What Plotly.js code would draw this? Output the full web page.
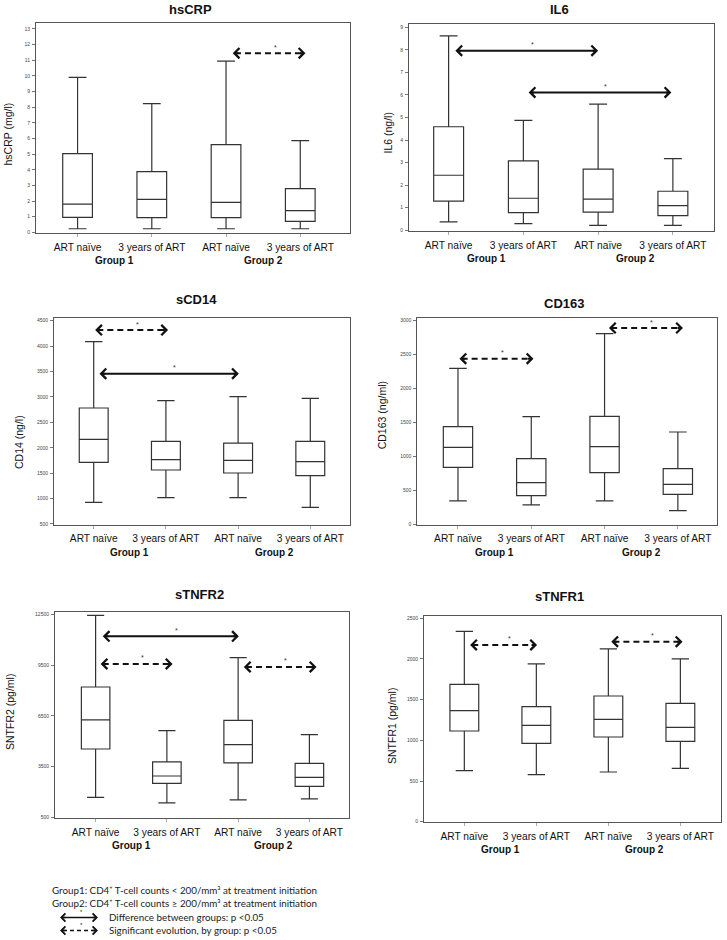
<!DOCTYPE html>
<html>
<head>
<meta charset="utf-8">
<script src="https://cdn.plot.ly/plotly-3.0.1.min.js"></script>
<style>html,body{margin:0;padding:0;background:#fff;}#chart{width:727px;height:940px;}</style>
</head>
<body>
<div id="chart"></div>
<script>
// ---------- data ----------
const xPos = [0, 1, 2, 3];
const categoryLabels = ['ART naïve', '3 years of ART', 'ART naïve', '3 years of ART'];
const groupLabels = ['Group 1', 'Group 2'];
const groupCenters = [0.5, 2.5];

const hscrpLow  = [0.23, 0.23, 0.23, 0.23];
const hscrpQ1   = [0.96, 0.94, 0.94, 0.70];
const hscrpMed  = [1.81, 2.11, 1.92, 1.39];
const hscrpQ3   = [5.03, 3.88, 5.61, 2.79];
const hscrpHigh = [9.91, 8.23, 10.94, 5.86];

const il6Low  = [0.37, 0.30, 0.22, 0.22];
const il6Q1   = [1.29, 0.78, 0.81, 0.65];
const il6Med  = [2.44, 1.42, 1.38, 1.09];
const il6Q3   = [4.59, 3.08, 2.71, 1.73];
const il6High = [8.62, 4.87, 5.59, 3.18];

const scd14Low  = [926, 1018, 1018, 828];
const scd14Q1   = [1713, 1562, 1503, 1451];
const scd14Med  = [2166, 1766, 1752, 1726];
const scd14Q3   = [2782, 2126, 2093, 2126];
const scd14High = [4087, 2926, 3005, 2972];

const cd163Low  = [344, 285, 344, 201];
const cd163Q1   = [840, 422, 761, 442];
const cd163Med  = [1134, 614, 1144, 589];
const cd163Q3   = [1439, 967, 1591, 820];
const cd163High = [2298, 1586, 2808, 1360];

const stnfr2Low  = [1682, 1347, 1525, 1584];
const stnfr2Q1   = [4539, 2510, 3712, 2333];
const stnfr2Med  = [6254, 2943, 4796, 2864];
const stnfr2Q3   = [8204, 3771, 6234, 3692];
const stnfr2High = [12441, 5623, 9938, 5387];

const stnfr1Low  = [627, 578, 611, 656];
const stnfr1Q1   = [1115, 963, 1041, 988];
const stnfr1Med  = [1365, 1184, 1258, 1160];
const stnfr1Q3   = [1689, 1414, 1545, 1455];
const stnfr1High = [2340, 1939, 2123, 2000];

// significance arrows: [from category, to category, value, kind]
const hscrpSig  = [[2.09, 3.07, 11.45, 'evolution']];
const il6Sig    = [[0.09, 2.0, 7.96, 'between'], [1.07, 2.98, 6.11, 'between']];
const scd14Sig  = [[0.02, 1.03, 4316, 'evolution'], [0.08, 2.01, 3457, 'between']];
const cd163Sig  = [[0.02, 1.03, 2440, 'evolution'], [2.06, 3.07, 2892, 'evolution']];
const stnfr2Sig = [[0.10, 2.01, 11200, 'between'], [0.07, 1.08, 9564, 'evolution'], [2.08, 3.10, 9387, 'evolution']];
const stnfr1Sig = [[0.08, 1.01, 2172, 'evolution'], [2.04, 3.03, 2213, 'evolution']];

const legendLines = [
  'Group1: CD4⁺ T-cell counts < 200/mm³ at treatment initiation',
  'Group2: CD4⁺ T-cell counts ≥ 200/mm³ at treatment initiation'
];
const legendArrowTexts = ['Difference between groups: p <0.05', 'Significant evolution, by group: p <0.05'];

// ---------- layout helpers ----------
const W = 727, H = 940;
const FONT = 'Liberation Sans, Arial, sans-serif';
const px = v => v / W;
const py = v => 1 - v / H;

const panels = [
  {title: 'hsCRP', ytitle: 'hsCRP (mg/l)', low: hscrpLow, q1: hscrpQ1, med: hscrpMed, q3: hscrpQ3, high: hscrpHigh, sig: hscrpSig,
   box: [36, 350, 23.3, 233.3], xr: [-0.56, 3.67], yr: [-0.06, 13.36], tick0: 0, dtick: 1, tpos: [190.5, 9], ypos: [7.5, 134]},
  {title: 'IL6', ytitle: 'IL6 (ng/l)', low: il6Low, q1: il6Q1, med: il6Med, q3: il6Q3, high: il6High, sig: il6Sig,
   box: [409, 714, 24.3, 231.3], xr: [-0.53, 3.55], yr: [-0.044, 9.13], tick0: 0, dtick: 1, tpos: [559, 9.3], ypos: [387.5, 133]},
  {title: 'sCD14', ytitle: 'CD14 (ng/l)', low: scd14Low, q1: scd14Q1, med: scd14Med, q3: scd14Q3, high: scd14High, sig: scd14Sig,
   box: [54, 350, 317.7, 525], xr: [-0.55, 3.55], yr: [480, 4559], tick0: 500, dtick: 500, tpos: [196.3, 299.3], ypos: [18.3, 441.7]},
  {title: 'CD163', ytitle: 'CD163 (ng/ml)', low: cd163Low, q1: cd163Q1, med: cd163Med, q3: cd163Q3, high: cd163High, sig: cd163Sig,
   box: [417.3, 716.7, 318.3, 525], xr: [-0.555, 3.53], yr: [-10, 3035], tick0: 0, dtick: 500, tpos: [564, 303.3], ypos: [382.3, 415]},
  {title: 'sTNFR2', ytitle: 'SNTFR2 (pg/ml)', low: stnfr2Low, q1: stnfr2Q1, med: stnfr2Med, q3: stnfr2Q3, high: stnfr2High, sig: stnfr2Sig,
   box: [55, 349.3, 611.7, 818.3], xr: [-0.57, 3.56], yr: [441, 12654], tick0: 500, dtick: 3000, tpos: [199, 594], ypos: [10, 712]},
  {title: 'sTNFR1', ytitle: 'SNTFR1 (pg/ml)', low: stnfr1Low, q1: stnfr1Q1, med: stnfr1Med, q3: stnfr1Q3, high: stnfr1High, sig: stnfr1Sig,
   box: [424, 720.7, 616, 822.3], xr: [-0.56, 3.56], yr: [-7, 2528], tick0: 0, dtick: 500, tpos: [559, 596], ypos: [391.3, 725.7]}
];

const traces = [];
const annotations = [];
const shapes = [];
const layout = {
  width: W, height: H,
  margin: {l: 0, r: 0, t: 0, b: 0},
  paper_bgcolor: '#ffffff', plot_bgcolor: '#ffffff',
  showlegend: false,
  font: {family: FONT, color: '#111'}
};

function head(xv, yv, xref, yref, dir, width) {
  return {x: xv, y: yv, xref: xref, yref: yref, text: '', showarrow: true,
          ax: dir * 7, ay: 0, arrowhead: 4, arrowsize: 1, arrowwidth: width, arrowcolor: '#111'};
}

panels.forEach((p, i) => {
  const n = i + 1;
  const xa = 'x' + (n === 1 ? '' : n), ya = 'y' + (n === 1 ? '' : n);
  const xk = 'xaxis' + (n === 1 ? '' : n), yk = 'yaxis' + (n === 1 ? '' : n);
  const [l, r, t, b] = p.box;
  layout[xk] = {
    domain: [px(l), px(r)], range: p.xr, anchor: ya,
    tickmode: 'array', tickvals: xPos, ticktext: categoryLabels,
    tickfont: {family: FONT, size: 10.2, color: '#111'},
    ticks: 'outside', ticklen: 3, tickcolor: '#aaa', ticklabelstandoff: 1,
    showline: true, mirror: true, linecolor: '#555', linewidth: 1,
    showgrid: false, zeroline: false, fixedrange: true
  };
  layout[yk] = {
    domain: [py(b), py(t)], range: p.yr, anchor: xa,
    tick0: p.tick0, dtick: p.dtick, tickformat: 'd',
    tickfont: {family: FONT, size: 5, color: '#444'},
    ticks: 'outside', ticklen: 3, tickcolor: '#777', ticklabelstandoff: 1,
    showline: true, mirror: true, linecolor: '#555', linewidth: 1,
    showgrid: false, zeroline: false, fixedrange: true
  };
  traces.push({
    type: 'box', x: xPos, q1: p.q1, median: p.med, q3: p.q3,
    lowerfence: p.low, upperfence: p.high, boxpoints: false,
    width: 0.4, whiskerwidth: 0.6,
    line: {color: '#333', width: 1.2}, fillcolor: '#ffffff',
    xaxis: xa, yaxis: ya, hoverinfo: 'skip', name: p.title
  });
  // significance arrows
  p.sig.forEach(s => {
    const [from, to, val, kind] = s;
    traces.push({
      type: 'scatter', mode: 'lines', x: [from + 0.03, to - 0.03], y: [val, val],
      line: {color: '#111', width: 2, dash: kind === 'evolution' ? '6px,4px' : 'solid'},
      xaxis: xa, yaxis: ya, hoverinfo: 'skip'
    });
    annotations.push(head(from, val, xa, ya, 1, 2));
    annotations.push(head(to, val, xa, ya, -1, 2));
    annotations.push({x: (from + to) / 2 + 0.08, y: val, xref: xa, yref: ya, text: '*', showarrow: false,
                      yshift: 6, font: {family: FONT, size: 7, color: '#333'}});
  });
  // panel title
  annotations.push({x: px(p.tpos[0]), y: py(p.tpos[1]), xref: 'paper', yref: 'paper', showarrow: false,
                    text: '<b>' + p.title + '</b>', font: {family: FONT, size: 13, color: '#111'},
                    xanchor: 'center', yanchor: 'middle'});
  // y-axis title
  annotations.push({x: px(p.ypos[0]), y: py(p.ypos[1]), xref: 'paper', yref: 'paper', showarrow: false,
                    text: p.ytitle, textangle: -90, font: {family: FONT, size: 10.5, color: '#111'},
                    xanchor: 'center', yanchor: 'middle'});
  // group labels
  groupLabels.forEach((g, k) => {
    annotations.push({x: groupCenters[k], y: py(b + 27), xref: xa, yref: 'paper', showarrow: false,
                      text: '<b>' + g + '</b>', font: {family: FONT, size: 10, color: '#111'},
                      xanchor: 'center', yanchor: 'middle'});
  });
});

// footnote legend
const LFONT = 'Lato, Carlito, sans-serif';
legendLines.forEach((txt, k) => {
  annotations.push({x: px(50), y: py(890 + k * 12.5), xref: 'paper', yref: 'paper', showarrow: false,
                    text: txt, xanchor: 'left', yanchor: 'middle', font: {family: LFONT, size: 9.8, color: '#222'}});
});
legendArrowTexts.forEach((txt, k) => {
  const yy = 916.5 + k * 13;
  annotations.push({x: px(107), y: py(yy), xref: 'paper', yref: 'paper', showarrow: false,
                    text: txt, xanchor: 'left', yanchor: 'middle', font: {family: LFONT, size: 9.8, color: '#222'}});
  shapes.push({type: 'line', xref: 'paper', yref: 'paper', x0: px(63), x1: px(95), y0: py(yy + 1), y1: py(yy + 1),
               line: {color: '#111', width: 1.5, dash: k === 0 ? 'solid' : '4px,3px'}});
  annotations.push(head(px(60), py(yy + 1), 'paper', 'paper', 1, 1.6));
  annotations.push(head(px(98), py(yy + 1), 'paper', 'paper', -1, 1.6));
  annotations.push({x: px(79), y: py(yy - 1), xref: 'paper', yref: 'paper', showarrow: false, text: '*',
                    borderpad: 0, font: {family: FONT, size: 6, color: '#222'}});
});

layout.annotations = annotations;
layout.shapes = shapes;
Plotly.newPlot('chart', traces, layout, {staticPlot: true, displayModeBar: false});
</script>
</body>
</html>
